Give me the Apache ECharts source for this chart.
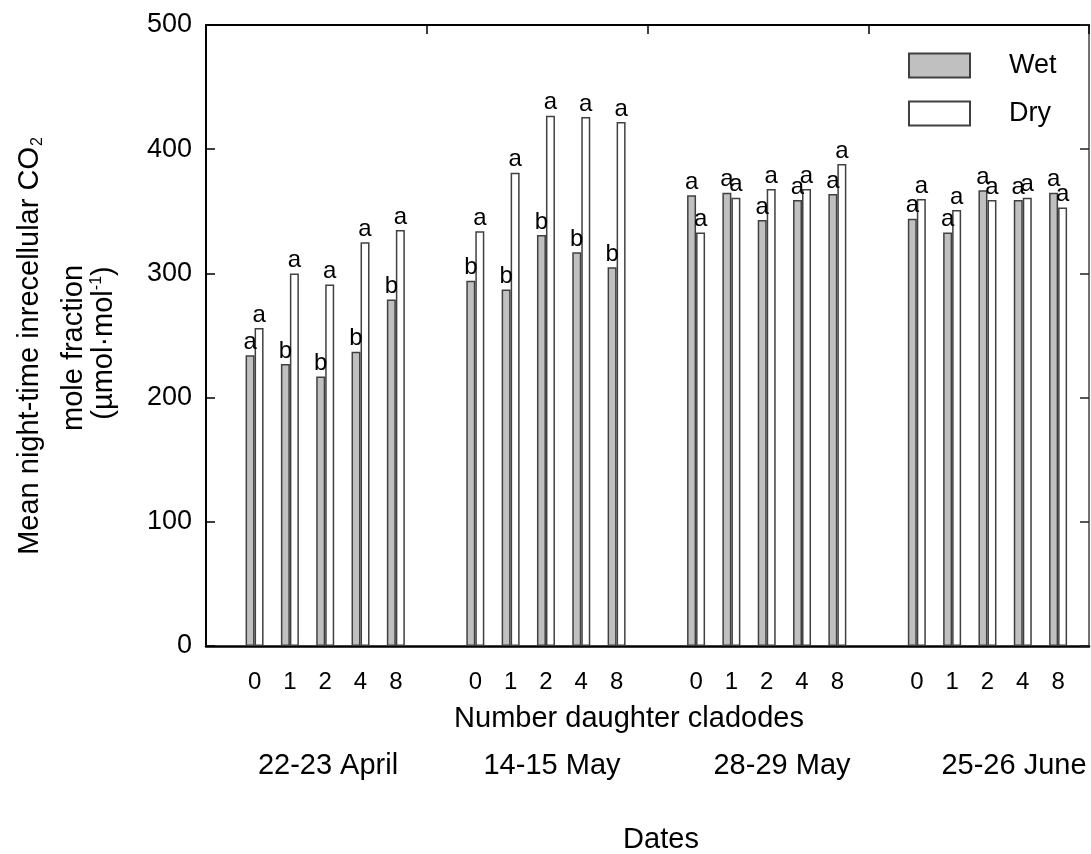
<!DOCTYPE html>
<html>
<head>
<meta charset="utf-8">
<style>
  html, body { margin: 0; padding: 0; background: #fff; }
  #chart { width: 1091px; height: 854px; }
</style>
</head>
<body>
<div id="chart"></div>
<script src="https://cdn.jsdelivr.net/npm/echarts@6/dist/echarts.min.js"></script>
<script>
// data
var dates = ['22-23 April', '14-15 May', '28-29 May', '25-26 June'];
var cladodes = ['0', '1', '2', '4', '8'];

var wetApr22 = [234, 227, 217, 237, 279];
var dryApr22 = [256, 300, 291, 325, 335];
var wetMay14 = [294, 287, 331, 317, 305];
var dryMay14 = [334, 381, 427, 426, 422];
var wetMay28 = [363, 365, 343, 359, 364];
var dryMay28 = [333, 361, 368, 368, 388];
var wetJun25 = [344, 333, 367, 359, 365];
var dryJun25 = [360, 351, 359, 361, 353];

var wetLetters = [['a', 'b', 'b', 'b', 'b'], ['b', 'b', 'b', 'b', 'b'], ['a', 'a', 'a', 'a', 'a'], ['a', 'a', 'a', 'a', 'a']];
var dryLetters = [['a', 'a', 'a', 'a', 'a'], ['a', 'a', 'a', 'a', 'a'], ['a', 'a', 'a', 'a', 'a'], ['a', 'a', 'a', 'a', 'a']];

var yTicks = [0, 100, 200, 300, 400, 500];

var wetValues = [wetApr22, wetMay14, wetMay28, wetJun25];
var dryValues = [dryApr22, dryMay14, dryMay28, dryJun25];

// every date takes 25 narrow slots, the bar pairs sit on slots 5, 9, 13, 17, 21
var SLOTS = 25, FIRST = 5, STEP = 4;
var slotNames = [], slotLabels = [], wetData = [], dryData = [], wetText = [], dryText = [];
for (var i = 0; i < SLOTS * dates.length; i++) {
  slotNames.push('s' + i);
  slotLabels.push('');
  wetData.push(null);
  dryData.push(null);
  wetText.push('');
  dryText.push('');
}
dates.forEach(function (d, g) {
  cladodes.forEach(function (c, k) {
    var idx = g * SLOTS + FIRST + k * STEP;
    slotLabels[idx] = c;
    wetData[idx] = wetValues[g][k];
    dryData[idx] = dryValues[g][k];
    wetText[idx] = wetLetters[g][k];
    dryText[idx] = dryLetters[g][k];
  });
});

var FONT = 'Liberation Sans, Arial, sans-serif';
var TITLE_SIZE = 29;
var chart = echarts.init(document.getElementById('chart'));

function label(text, x, y, extra) {
  var el = {
    type: 'text', x: x, y: y,
    style: {
      text: text, fontSize: TITLE_SIZE, fontFamily: FONT, fill: '#000',
      align: 'center', verticalAlign: 'middle', textAlign: 'center', textVerticalAlign: 'middle'
    }
  };
  if (extra) {
    if (extra.rotation) el.rotation = extra.rotation;
    if (extra.rich) el.style.rich = extra.rich;
  }
  return el;
}

var dateX = [328, 552, 782, 1014];
var graphics = dates.map(function (d, g) { return label(d, dateX[g], 766); });
graphics.push(label('Number daughter cladodes', 629, 719));
graphics.push(label('Dates', 661, 840));
// y axis title, three rotated lines
graphics.push(label('Mean night-time inrecellular CO{sub|2}', 30, 346, {
  rotation: Math.PI / 2,
  rich: { sub: { fontSize: 16, fontFamily: FONT, fill: '#000', padding: [15, 0, 0, 1] } }
}));
graphics.push(label('mole fraction', 74, 348, { rotation: Math.PI / 2 }));
graphics.push(label('(\u00b5mol\u00b7mol{sup|-1})', 104, 343, {
  rotation: Math.PI / 2,
  rich: { sup: { fontSize: 16, fontFamily: FONT, fill: '#000', padding: [0, 0, 15, 0] } }
}));

var option = {
  backgroundColor: '#fff',
  animation: false,
  grid: { left: 206, right: 2, top: 25, bottom: 208, containLabel: false },
  legend: {
    data: ['Wet', 'Dry'],
    orient: 'vertical',
    left: 903, top: 47,
    itemWidth: 61, itemHeight: 24, itemGap: 21,
    icon: 'rect',
    selectedMode: false,
    textStyle: { fontSize: 27, fontFamily: FONT, color: '#000', padding: [0, 0, 0, 34] }
  },
  xAxis: [
    {
      type: 'category',
      data: slotNames,
      position: 'bottom',
      axisLine: { onZero: false, lineStyle: { color: '#000', width: 2.5 } },
      axisTick: { show: false },
      axisLabel: {
        interval: 0, margin: 24, fontSize: 24, fontFamily: FONT, color: '#000',
        formatter: function (v, idx) { return slotLabels[idx]; }
      },
      splitLine: { show: false }
    },
    {
      type: 'category',
      data: slotNames,
      position: 'top',
      axisLine: { onZero: false, lineStyle: { color: '#000', width: 2 } },
      axisTick: {
        show: true, inside: true, length: 9, lineStyle: { color: '#000', width: 1.5 },
        interval: function (idx) { return idx > 0 && idx % SLOTS === 0; }
      },
      axisLabel: { show: false },
      splitLine: { show: false }
    }
  ],
  yAxis: [
    {
      type: 'value', min: 0, max: 500, interval: 100,
      position: 'left',
      axisLine: { show: true, onZero: false, lineStyle: { color: '#000', width: 2 } },
      axisTick: { show: true, inside: true, length: 9, lineStyle: { color: '#000', width: 1.5 } },
      axisLabel: {
        margin: 14, fontSize: 27, fontFamily: FONT, color: '#000',
        formatter: function (v) { return yTicks.indexOf(v) >= 0 ? String(v) : ''; }
      },
      splitLine: { show: false }
    },
    {
      type: 'value', min: 0, max: 500, interval: 100,
      position: 'right',
      axisLine: { show: true, onZero: false, lineStyle: { color: '#444', width: 1.5 } },
      axisTick: { show: true, inside: true, length: 9, lineStyle: { color: '#222', width: 1.5 } },
      axisLabel: { show: false },
      splitLine: { show: false }
    }
  ],
  series: [
    {
      name: 'Wet', type: 'bar', data: wetData,
      barWidth: 9, barGap: '0%',
      itemStyle: { color: '#c0c0c0', borderColor: '#404040', borderWidth: 1.5 },
      label: {
        show: true, position: 'top', distance: 1, fontSize: 24, fontFamily: FONT, color: '#000',
        formatter: function (p) { return wetText[p.dataIndex]; }
      }
    },
    {
      name: 'Dry', type: 'bar', data: dryData,
      barWidth: 9, barGap: '0%',
      itemStyle: { color: '#ffffff', borderColor: '#404040', borderWidth: 1.5 },
      label: {
        show: true, position: 'top', distance: 1, fontSize: 24, fontFamily: FONT, color: '#000',
        formatter: function (p) { return dryText[p.dataIndex]; }
      }
    }
  ],
  graphic: graphics
};

chart.setOption(option);
</script>
</body>
</html>
